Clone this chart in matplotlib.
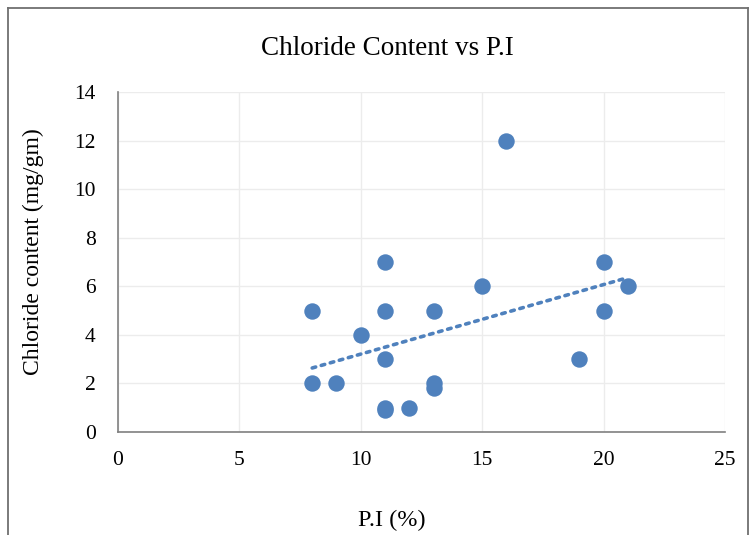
import matplotlib.pyplot as plt
import numpy as np
from matplotlib.lines import Line2D

# P.I (%) and chloride content (mg/gm)
pi_values = [8, 8, 9, 10, 11, 11, 11, 11, 11, 12, 13, 13, 13, 15, 16, 19, 20, 20, 21]
chloride = [5, 2, 2, 4, 7, 5, 3, 1, 0.9, 1, 5, 2, 1.8, 6, 12, 3, 7, 5, 6]

x_ticks = [0, 5, 10, 15, 20, 25]
y_ticks = [0, 2, 4, 6, 8, 10, 12, 14]

color = '#4f81bd'

plt.rcParams['font.family'] = ['Liberation Serif', 'DejaVu Serif']

fig = plt.figure(figsize=(7.53, 5.35), dpi=100)
ax = fig.add_axes([0.1567, 0.1925, 0.806, 0.6355])

ax.scatter(pi_values, chloride, s=140, color=color, zorder=3, linewidths=0)

# linear trendline
x = np.array(pi_values, dtype=float)
y = np.array(chloride, dtype=float)
slope, intercept = np.polyfit(x, y, 1)
xt = np.array([x.min(), x.max()])
ax.plot(xt, slope * xt + intercept, linestyle=(0, (1, 1.6)), color=color,
        linewidth=2.6, dash_capstyle='round', zorder=2)

ax.set_xlim(0, 25)
ax.set_ylim(0, 14)
ax.set_xticks(x_ticks)
ax.set_yticks(y_ticks)
ax.tick_params(length=0, labelsize=15.5)
ax.tick_params(axis='y', pad=16)
ax.tick_params(axis='x', pad=14)
ax.grid(True, color='#ececec', linewidth=1)
ax.set_axisbelow(True)
for side in ['top', 'right']:
    ax.spines[side].set_visible(False)
for side in ['left', 'bottom']:
    ax.spines[side].set_color('#808080')
    ax.spines[side].set_linewidth(1.2)

fig.text(0.514, 0.91, 'Chloride Content vs P.I', ha='center', va='center', fontsize=19.5)
fig.text(0.52, 0.028, 'P.I (%)', ha='center', va='center', fontsize=17.5)
fig.text(0.045, 0.53, 'Chloride content (mg/gm)', ha='center', va='center',
         rotation=90, fontsize=17)

# chart frame (bottom edge is cropped in the original)
fig.add_artist(Line2D([0.011, 0.011], [0, 0.985], color='#707070', linewidth=1.3))
fig.add_artist(Line2D([0.011, 0.993], [0.985, 0.985], color='#707070', linewidth=1.3))
fig.add_artist(Line2D([0.993, 0.993], [0, 0.985], color='#707070', linewidth=1.3))

fig.savefig('out.png', dpi=100)
